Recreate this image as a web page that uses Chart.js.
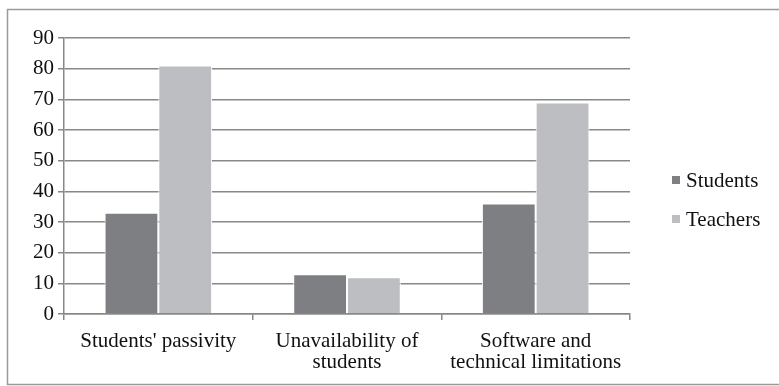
<!DOCTYPE html>
<html>
<head>
<meta charset="utf-8">
<script src="https://cdn.jsdelivr.net/npm/chart.js@4/dist/chart.umd.min.js"></script>
<style>
  html, body { margin: 0; padding: 0; background: #fff; }
  #wrap { position: relative; width: 779px; height: 386px; }
</style>
</head>
<body>
<div id="wrap"><canvas id="c" width="779" height="386"></canvas></div>
<script>
// Reasons for problems in online classes, by respondent group
const categories = [
  "Students' passivity",
  ["Unavailability of", "students"],
  ["Software and", "technical limitations"]
];
const studentsValues = [33, 13, 36];
const teachersValues = [81, 12, 69];
const seriesNames = ["Students", "Teachers"];
const yTicks = [0, 10, 20, 30, 40, 50, 60, 70, 80, 90];

const FONT = '"Liberation Serif", "Times New Roman", Times, serif';
const GRID = '#888888';
const COLORS = ['#7e7f83', '#bdbec2'];

// Frame around the whole figure plus a hand-drawn legend on the right
const framePlugin = {
  id: 'frame',
  beforeDraw(chart) {
    const ctx = chart.ctx;
    ctx.save();
    ctx.fillStyle = '#fff';
    ctx.fillRect(0, 0, chart.width, chart.height);
    ctx.strokeStyle = '#9a9a9a';
    ctx.lineWidth = 1.5;
    ctx.strokeRect(7.5, 9.5, 790, 375);
    ctx.restore();
  },
  afterDraw(chart) {
    const ctx = chart.ctx;
    ctx.save();
    ctx.font = '21px ' + FONT;
    ctx.textBaseline = 'middle';
    const ys = [180, 219];
    chart.data.datasets.forEach((ds, i) => {
      ctx.fillStyle = ds.backgroundColor;
      ctx.fillRect(672, ys[i] - 4, 8, 8);
      ctx.fillStyle = '#111';
      ctx.fillText(ds.label, 686, ys[i] + 1);
    });
    ctx.restore();
  }
};

function draw() {
  new Chart(document.getElementById('c'), {
    type: 'bar',
    data: {
      labels: categories,
      datasets: [
        { label: seriesNames[0], data: studentsValues, backgroundColor: COLORS[0] },
        { label: seriesNames[1], data: teachersValues, backgroundColor: COLORS[1] }
      ]
    },
    options: {
      responsive: false,
      animation: false,
      devicePixelRatio: 1,
      layout: { padding: { left: 10, right: 149, top: 38, bottom: 0 } },
      datasets: {
        bar: {
          categoryPercentage: 0.57,
          barPercentage: 1.0,
          borderColor: '#ffffff',
          borderWidth: 1
        }
      },
      plugins: {
        legend: { display: false },
        tooltip: { enabled: false }
      },
      scales: {
        x: {
          grid: {
            display: true,
            drawOnChartArea: false,
            drawTicks: true,
            tickLength: 6,
            offset: true,
            color: GRID,
            lineWidth: 1.5
          },
          border: { display: true, color: GRID, width: 1.5 },
          ticks: {
            color: '#111',
            font: { family: FONT, size: 21, lineHeight: 1.0 },
            padding: 11,
            maxRotation: 0,
            autoSkip: false
          },
          afterFit(scale) { scale.height = 72; }
        },
        y: {
          min: 0,
          max: 90,
          afterBuildTicks(scale) { scale.ticks = yTicks.map(v => ({ value: v })); },
          grid: {
            color: GRID,
            lineWidth: 1.5,
            drawTicks: true,
            tickLength: 6
          },
          border: { display: true, color: GRID, width: 1.5 },
          ticks: {
            color: '#111',
            font: { family: FONT, size: 21 },
            padding: 4
          },
          afterFit(scale) { scale.width = 54; }
        }
      }
    },
    plugins: [framePlugin]
  });
}

if (document.fonts && document.fonts.load) {
  document.fonts.load('21px "Liberation Serif"').then(draw, draw);
} else {
  draw();
}
</script>
</body>
</html>
